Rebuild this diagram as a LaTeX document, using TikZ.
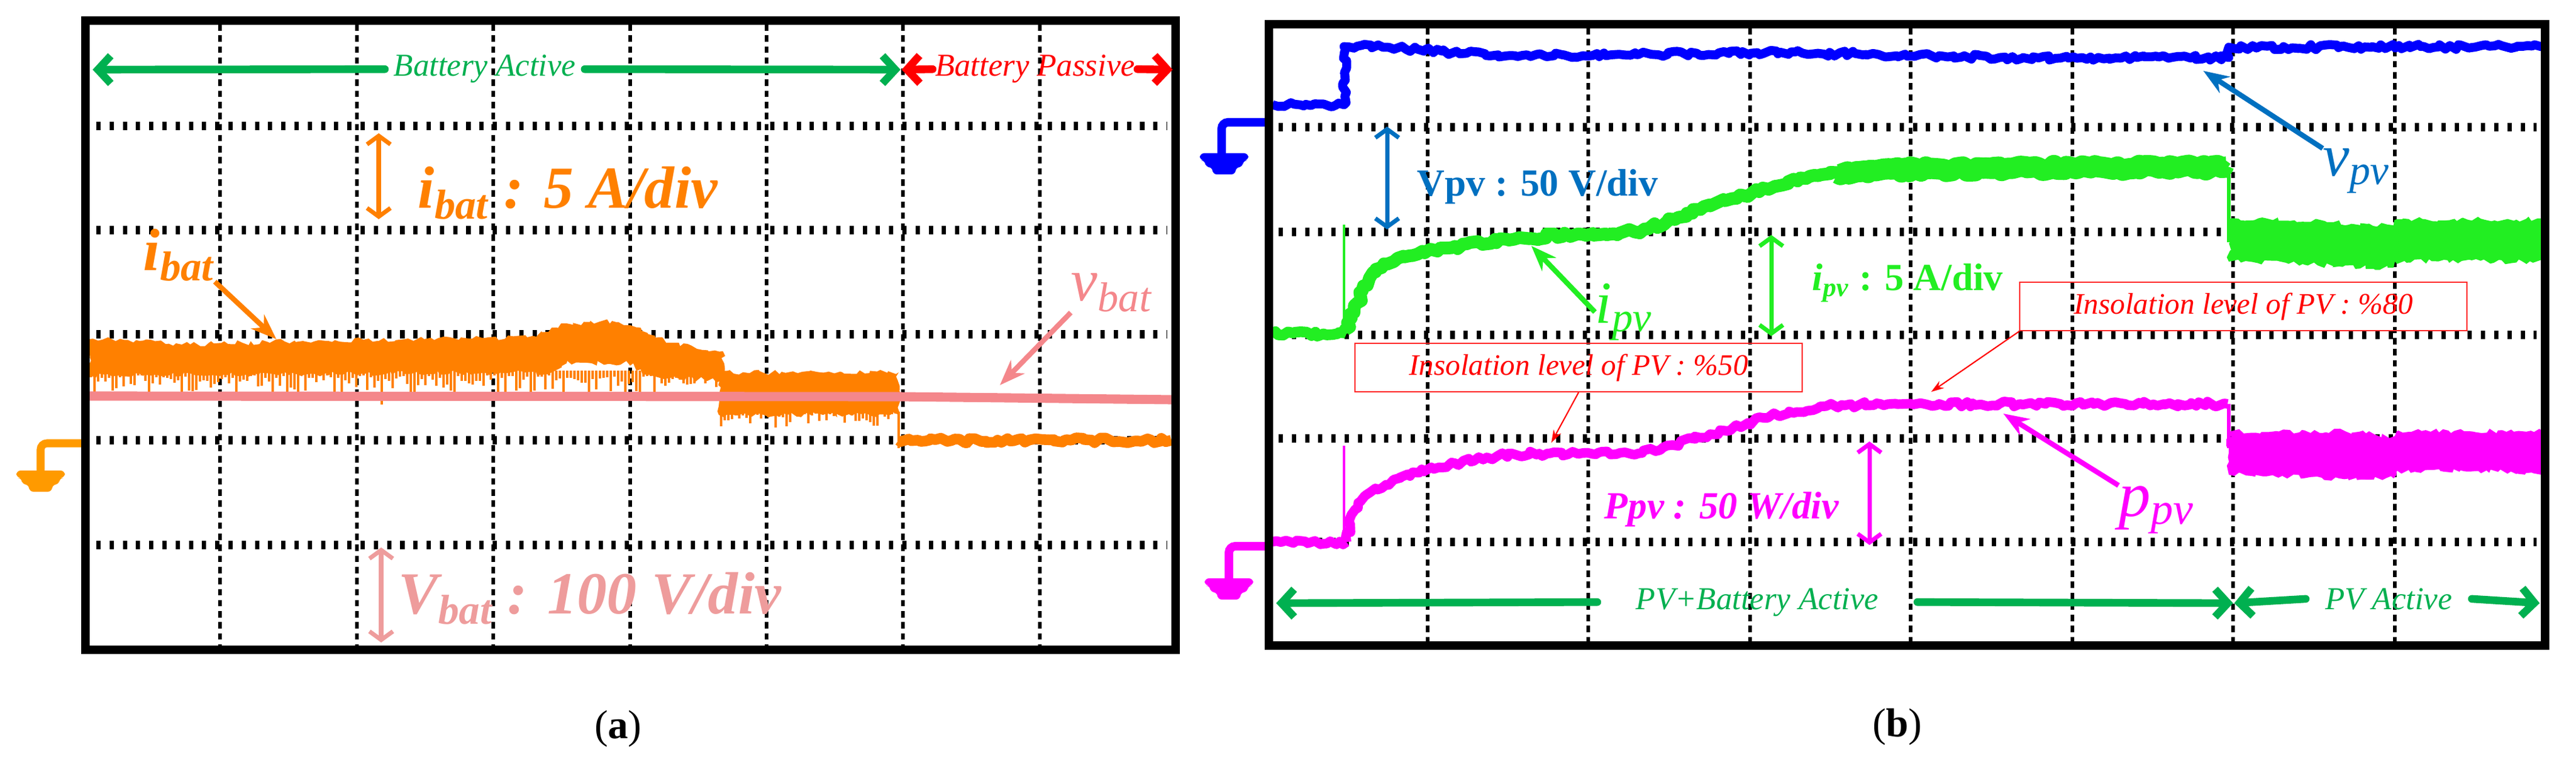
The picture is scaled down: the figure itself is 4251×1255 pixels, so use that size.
\documentclass[tikz,border=0pt]{standalone}
\usepackage{fontspec}
\setmainfont{Liberation Serif}
\usetikzlibrary{arrows.meta,decorations.pathmorphing}

\definecolor{ibatc}{HTML}{FF8000}
\definecolor{gndo}{HTML}{FF9A00}
\definecolor{vbatc}{HTML}{F4878B}
\definecolor{vbtxt}{HTML}{EE9C9C}
\definecolor{actc}{HTML}{00B050}
\definecolor{vpvc}{HTML}{0000FF}
\definecolor{vpvt}{HTML}{0070C0}
\definecolor{ipvc}{HTML}{22EE22}
\definecolor{ppvc}{HTML}{FF00FF}

\newcommand\gndmark[3]{\fill[#1, rounded corners=2pt] (#2-40,#3) -- (#2+40,#3) -- (#2+40,#3+12) -- (#2+31,#3+12) -- (#2+31,#3+23) -- (#2+19,#3+23) -- (#2+19,#3+35) -- (#2-19,#3+35) -- (#2-19,#3+23) -- (#2-31,#3+23) -- (#2-31,#3+12) -- (#2-40,#3+12) -- cycle;}

\begin{document}
\begin{tikzpicture}[x=0.01cm, y=-0.01cm,
  frame/.style={line width=4pt},
  vgrid/.style={line width=1.7pt, dash pattern=on 3pt off 2.2pt},
  hgrid/.style={line width=3.7pt, dash pattern=on 2pt off 4.2pt},
  noisy/.style={decorate, decoration={random steps, segment length=2pt, amplitude=1.2pt}, line join=round},
  spanline/.style={line width=3.6pt, line cap=round, -{Straight Barb[length=6pt,width=13pt]}},
  spantxt/.style={font=\fontsize{15}{18}\selectfont\itshape, inner ysep=0pt, anchor=base},
  scalearrow/.style={line width=2pt, {Straight Barb[length=4pt,width=11pt]}-{Straight Barb[length=4pt,width=11pt]}},
  lblarrow/.style={line width=2.4pt, -{Stealth[length=12pt,width=9pt]}},
  thinarrow/.style={line width=0.6pt, -{Stealth[length=6pt,width=4pt]}},
  bigbf/.style={font=\fontsize{28}{32}\selectfont\bfseries\itshape, inner sep=0pt, anchor=base west},
  bigit/.style={font=\fontsize{28}{32}\selectfont\itshape, inner sep=0pt, anchor=base west},
  scaletxt/.style={font=\fontsize{18}{21}\selectfont\bfseries, inner sep=0pt, anchor=base west},
  insbox/.style={draw=red!85, line width=0.6pt, text=red, font=\fontsize{14}{16}\selectfont\itshape, minimum width=7.37cm, minimum height=0.8cm},
  capt/.style={font=\fontsize{19}{22}\selectfont}]
\pgfmathsetseed{7}
\useasboundingbox (0,0) rectangle (4251,1255);

% grid (a)
\foreach \x in {363,589,814,1040,1265,1490,1716} \draw[vgrid] (\x,40) -- (\x,1068);
\foreach \y in {208,380,552,727,900} \draw[hgrid] (159,\y) -- (1926,\y);

% i_bat and v_bat
\fill[ibatc, noisy] (147,560) -- (230,563) -- (300,569) -- (400,566) -- (500,563) -- (600,561) -- (700,560) -- (800,558) -- (870,557) -- (905,548) -- (935,534) -- (1010,530) -- (1040,537) -- (1070,552) -- (1110,566) -- (1150,576) -- (1193,580) -- (1193,628) -- (1100,625) -- (1060,618) -- (1045,600) -- (935,600) -- (910,615) -- (147,620) -- cycle;
\foreach \x in {150,156,...,1188}{\pgfmathsetmacro\len{8+50*rnd*rnd}\draw[ibatc, line width=1.3pt] (\x,612) -- ++(0,\len);}
\fill[ibatc, noisy] (1186,615) -- (1483,615) -- (1483,685) -- (1186,685) -- cycle;
\foreach \x in {1190,1196,...,1480}{\pgfmathsetmacro\len{3+30*rnd*rnd}\draw[ibatc, line width=1.3pt] (\x,680) -- ++(0,\len);}
\draw[ibatc, line width=1.2pt] (1483,680) -- (1483,740);
\draw[ibatc, line width=5pt, noisy] (1483,727) -- (1933,727);
\draw[vbatc, line width=4.3pt] (147,654) -- (1483,655) -- (1933,660);

\draw[gndo, line width=3.7pt, rounded corners=3pt] (141,732) -- (67,732) -- (67,780);
\gndmark{gndo}{67}{777}
\draw[frame] (141,34) rectangle (1940,1073);

\node[spantxt, actc, inner xsep=4pt] (bact) at (800,126) {Battery Active};
\coordinate (bal) at (153,115);
\coordinate (bar) at (1486,115);
\draw[spanline, actc] (bact.west) -- (bal);
\draw[spanline, actc] (bact.east) -- (bar);
\node[spantxt, red, inner xsep=1pt] (bpas) at (1708,126) {Battery Passive};
\coordinate (bpl) at (1488,115);
\coordinate (bpr) at (1935,115);
\draw[spanline, red] (bpas.west) -- (bpl);
\draw[spanline, red] (bpas.east) -- (bpr);

\node[bigbf, ibatc] (ibs) at (689,344) {i\textsubscript{bat} : 5 A/div};
\coordinate (ibs1) at (625,220);
\coordinate (ibs2) at (625,362);
\draw[scalearrow, ibatc] (ibs1) -- (ibs2);
\node[bigbf, vbtxt] (vbs) at (657,1013) {V\textsubscript{bat} : 100 V/div};
\coordinate (vbs1) at (629,904);
\coordinate (vbs2) at (629,1061);
\draw[scalearrow, vbtxt] (vbs1) -- (vbs2);

\node[bigbf, ibatc] (ibl) at (236,446) {i\textsubscript{bat}};
\coordinate (ibt) at (456,560);
\draw[lblarrow, ibatc] (ibl.south east) -- (ibt);
\node[bigit, vbatc] (vbl) at (1767,497) {v\textsubscript{bat}};
\coordinate (vbt) at (1650,636);
\draw[lblarrow, vbatc] (vbl.south west) -- (vbt);

\node[capt] (capa) at (1020,1203) {(\textbf{a})};

% grid (b)
\foreach \x in {2356,2621,2888,3153,3420,3685,3952} \draw[vgrid] (\x,46) -- (\x,1060);
\foreach \y in {210,383,553,724,895} \draw[hgrid] (2110,\y) -- (4186,\y);

% v_pv
\draw[vpvc, line width=4.2pt, noisy] (2100,173) -- (2218,173) -- (2218,77) -- (2290,78) -- (2350,83) -- (2420,88) -- (2500,92) -- (2612,92) -- (2700,90) -- (2800,88) -- (2900,87) -- (3000,88) -- (3100,90) -- (3200,92) -- (3300,95) -- (3400,96) -- (3500,96) -- (3678,95) -- (3678,78) -- (4195,77);
% i_pv
\draw[ipvc, line width=1pt] (2218,551) -- (2218,371);
\draw[ipvc, line width=5pt, noisy] (2098,551) -- (2222,551);
\draw[ipvc, line width=6pt, noisy] (2222,551) -- (2230,525) -- (2240,500) -- (2260,459) -- (2280,442) -- (2300,432) -- (2331,422) -- (2401,407) -- (2513,393) -- (2612,387) -- (2710,381) -- (2752,365) -- (2822,340) -- (2892,318) -- (2960,296) -- (3033,285) -- (3100,281) -- (3200,278) -- (3313,277) -- (3450,276) -- (3594,276) -- (3676,275);
\draw[ipvc, line width=10pt, noisy] (3033,286) -- (3100,281) -- (3200,279) -- (3313,278) -- (3450,277) -- (3594,277) -- (3674,276);
\draw[ipvc, line width=1.5pt] (3678,276) -- (3678,400);
\fill[ipvc, noisy] (3678,362) -- (3860,364) -- (3870,372) -- (3950,372) -- (3955,362) -- (4198,362) -- (4198,432) -- (3952,432) -- (3950,442) -- (3860,440) -- (3800,436) -- (3678,432) -- cycle;
% p_pv
\draw[ppvc, line width=1pt] (2218,895) -- (2218,736);
\draw[ppvc, line width=4.5pt, noisy] (2098,895) -- (2222,895);
\draw[ppvc, line width=4.5pt, noisy] (2222,895) -- (2230,850) -- (2245,828) -- (2261,813) -- (2300,792) -- (2331,780) -- (2401,765) -- (2471,753) -- (2540,749) -- (2612,748) -- (2710,748) -- (2760,735) -- (2822,717) -- (2920,688) -- (3004,671) -- (3103,667) -- (3200,667) -- (3400,667) -- (3676,667);
\draw[ppvc, line width=1.5pt] (3678,667) -- (3678,740);
\fill[ppvc, noisy] (3678,712) -- (3870,712) -- (3952,720) -- (3955,712) -- (4198,712) -- (4198,780) -- (3955,778) -- (3950,790) -- (3860,790) -- (3678,784) -- cycle;

\draw[vpvc, line width=4pt, rounded corners=3pt] (2094,202) -- (2016,202) -- (2016,256);
\gndmark{vpvc}{2020}{253}
\draw[ppvc, line width=4pt, rounded corners=3pt] (2094,902) -- (2028,902) -- (2028,958);
\gndmark{ppvc}{2028}{955}
\draw[frame] (2094,40) rectangle (4200,1066);

\node[scaletxt, vpvt] (vps) at (2338,324) {Vpv : 50 V/div};
\coordinate (vps1) at (2289,209);
\coordinate (vps2) at (2289,379);
\draw[scalearrow, vpvt] (vps1) -- (vps2);
\node[bigit, vpvt] (vpl) at (3833,291) {v\textsubscript{pv}};
\coordinate (vpt) at (3636,117);
\draw[lblarrow, vpvt] (vpl.north west) -- (vpt);

\node[bigit, ipvc] (ipl) at (2632,534) {i\textsubscript{pv}};
\coordinate (ipt) at (2527,406);
\draw[lblarrow, ipvc] (ipl.west) -- (ipt);
\node[scaletxt, ipvc] (ips) at (2990,480) {\textit{i}\textsubscript{\textit{pv}} : 5 A/div};
\coordinate (ips1) at (2923,388);
\coordinate (ips2) at (2923,555);
\draw[scalearrow, ipvc] (ips1) -- (ips2);

\node[insbox] (ins80) at (3702,506) {Insolation level of PV : \%80};
\coordinate (i80t) at (3187,647);
\draw[thinarrow, red] (ins80.south west) -- (i80t);
\node[insbox] (ins50) at (2605,607) {Insolation level of PV : \%50};
\coordinate (i50t) at (2560,731);
\draw[thinarrow, red] (ins50.south) -- (i50t);

\node[scaletxt, ppvc, font=\fontsize{18}{21}\selectfont\bfseries\itshape] (pps) at (2647,856) {Ppv : 50 W/div};
\coordinate (pps1) at (3085,729);
\coordinate (pps2) at (3085,900);
\draw[scalearrow, ppvc] (pps1) -- (pps2);
\node[bigit, ppvc, font=\fontsize{30}{34}\selectfont\itshape] (ppl) at (3496,852) {p\textsubscript{pv}};
\coordinate (ppt) at (3306,683);
\draw[lblarrow, ppvc] (ppl.north west) -- (ppt);

\node[spantxt, actc, inner xsep=18pt] (pvba) at (2900,1006) {PV+Battery Active};
\coordinate (pvbal) at (2106,996);
\coordinate (pvbar) at (3685,996);
\draw[spanline, actc] (pvba.west) -- (pvbal);
\draw[spanline, actc] (pvba.east) -- (pvbar);
\node[spantxt, actc, inner xsep=9pt] (pva) at (3942,1006) {PV Active};
\coordinate (pval) at (3687,996);
\coordinate (pvar) at (4191,996);
\draw[spanline, actc] (pva.west) -- (pval);
\draw[spanline, actc] (pva.east) -- (pvar);

\node[capt] (capb) at (3131,1200) {(\textbf{b})};
\end{tikzpicture}
\end{document}
